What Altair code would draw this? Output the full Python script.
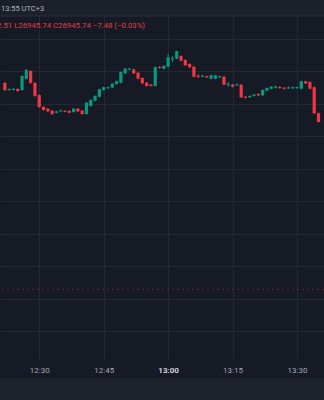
import altair as alt
import pandas as pd

times = ["12:22","12:23","12:24","12:25","12:26","12:27","12:28","12:29","12:30","12:31",
         "12:32","12:33","12:34","12:35","12:36","12:37","12:38","12:39","12:40","12:41",
         "12:42","12:43","12:44","12:45","12:46","12:47","12:48","12:49","12:50","12:51",
         "12:52","12:53","12:54","12:55","12:56","12:57","12:58","12:59","13:00","13:01",
         "13:02","13:03","13:04","13:05","13:06","13:07","13:08","13:09","13:10","13:11",
         "13:12","13:13","13:14","13:15","13:16","13:17","13:18","13:19","13:20","13:21",
         "13:22","13:23","13:24","13:25","13:26","13:27","13:28","13:29","13:30","13:31",
         "13:32","13:33","13:34","13:35"]
opens = [26966.1,26960.5,26960.8,26961.5,26960.7,26969.4,26975.3,26966.1,26956.8,26947.6,
         26946.3,26944.8,26943.2,26944.2,26944.8,26944.5,26943.8,26946.3,26944.8,26942.2,
         26948.4,26952.5,26955.5,26960.7,26962.0,26962.6,26965.3,26966.3,26973.5,26976.4,
         26976.6,26974.0,26969.9,26966.3,26964.8,26963.8,26978.4,26977.1,26978.6,26984.1,
         26984.8,26986.8,26983.8,26980.7,26978.6,26971.6,26971.0,26971.3,26969.4,26969.4,
         26970.5,26970.9,26964.6,26964.8,26964.3,26964.8,26955.5,26955.1,26956.1,26957.6,
         26956.6,26960.2,26961.7,26962.4,26963.0,26962.4,26961.9,26962.0,26962.1,26961.7,
         26967.4,26966.8,26962.8,26942.8]
closes = [26960.7,26961.3,26961.6,26959.9,26971.5,26976.1,26966.1,26956.1,26947.6,26945.3,
          26944.3,26942.2,26944.2,26945.0,26944.0,26943.2,26946.3,26944.3,26942.2,26950.9,
          26953.0,26956.1,26961.2,26962.8,26962.8,26965.5,26967.4,26974.5,26977.1,26977.2,
          26973.5,26969.4,26965.8,26963.8,26963.8,26978.2,26977.6,26979.2,26985.8,26984.9,
          26990.5,26983.2,26979.7,26978.2,26970.9,26970.8,26971.8,26970.4,26972.0,26972.0,
          26971.3,26964.8,26965.4,26963.2,26965.1,26955.1,26954.7,26956.1,26957.1,26956.6,
          26960.7,26962.2,26963.2,26963.4,26962.2,26961.6,26962.7,26962.8,26962.9,26967.4,
          26965.8,26961.7,26942.8,26936.1]
highs = [26966.9,26961.9,26962.2,26962.1,26971.9,26976.9,26975.9,26966.6,26957.3,26948.1,
         26946.9,26945.3,26944.7,26945.5,26945.3,26945.0,26946.8,26946.8,26945.3,26951.4,
         26953.5,26956.6,26961.7,26963.3,26963.3,26966.0,26967.9,26975.0,26977.6,26977.7,
         26977.1,26974.5,26970.4,26966.8,26965.3,26978.7,26978.9,26979.7,26988.4,26986.8,
         26991.0,26987.3,26984.3,26981.2,26979.1,26973.0,26972.3,26971.8,26972.5,26972.5,
         26971.8,26971.4,26966.8,26965.3,26965.6,26965.3,26956.0,26956.6,26957.6,26958.1,
         26961.2,26962.7,26963.7,26963.9,26963.5,26962.9,26963.2,26963.3,26963.4,26967.9,
         26967.9,26967.3,26963.3,26943.3]
lows = [26959.9,26960.1,26960.3,26959.3,26960.2,26968.8,26965.6,26955.5,26947.0,26944.8,
        26943.8,26941.7,26942.7,26943.8,26943.6,26942.8,26943.3,26943.8,26941.7,26941.8,
        26947.9,26952.0,26955.0,26960.2,26961.6,26962.1,26964.8,26965.8,26973.0,26975.9,
        26973.0,26968.9,26965.3,26963.3,26963.3,26963.3,26977.1,26976.6,26978.1,26982.2,
        26984.3,26982.7,26979.2,26977.7,26970.4,26969.9,26970.5,26969.9,26968.9,26968.9,
        26970.0,26964.3,26963.0,26962.7,26963.8,26954.6,26954.2,26954.6,26955.6,26956.1,
        26956.1,26959.7,26961.2,26961.9,26961.7,26961.1,26961.4,26961.5,26961.6,26961.2,
        26965.3,26961.2,26942.3,26935.6]

tick_labels = ["12:30", "12:45", "13:00", "13:15", "13:30"]
grid_prices = [26775, 26800, 26825, 26850, 26875, 26900, 26925, 26950, 26975, 27000, 27025]
ref_price = [26807.4]
header_time = "13:55 UTC+3"
header_ohlc = "2.51 L26945.74 C26945.74 \u22127.48 (\u22120.03%)"

UP = "#089981"
DOWN = "#f23645"
BG = "#161a25"
GRID = "#242834"


def dt(hm, sec=0):
    h, m = hm.split(":")
    return alt.DateTime(year=2023, month=9, date=1, hours=int(h), minutes=int(m), seconds=sec)


df = pd.DataFrame({
    "t": ["2023/09/01 %s:00" % t for t in times],
    "open": opens, "close": closes, "high": highs, "low": lows,
})
df["dir"] = ["up" if c >= o else "down" for o, c in zip(opens, closes)]

is_hour = "hours(datum.value) == 13 && minutes(datum.value) == 0"
x_scale = alt.Scale(domain=[dt("12:22", 2), dt("13:35", 7)])
x_axis = alt.Axis(
    title=None, format="%H:%M", values=[dt(t) for t in tick_labels],
    domain=False, ticks=False, labelFontSize=8, labelFont="Roboto",
    labelColor={"condition": {"test": is_hour, "value": "#d1d4dc"}, "value": "#a3a6af"},
    labelFontWeight={"condition": {"test": is_hour, "value": "bold"}, "value": "normal"},
    labelPadding=7, labelFlush=False, gridColor=GRID, gridWidth=1,
)
y_scale = alt.Scale(domain=[26753.77, 27029.92], nice=False, zero=False)
y_axis = alt.Axis(title=None, values=grid_prices, labels=False, ticks=False, domain=False,
                  gridColor=GRID, gridWidth=1, orient="right")
color = alt.Color("dir:N", scale=alt.Scale(domain=["up", "down"], range=[UP, DOWN]), legend=None)

base = alt.Chart(df)
wicks = base.mark_rule(strokeWidth=1).encode(
    x=alt.X("t:T", scale=x_scale, axis=x_axis),
    y=alt.Y("low:Q", scale=y_scale, axis=y_axis),
    y2="high:Q",
    color=color,
)
bodies = base.mark_bar(size=3.2).encode(
    x=alt.X("t:T", scale=x_scale, axis=x_axis),
    y=alt.Y("open:Q", scale=y_scale, axis=y_axis),
    y2="close:Q",
    color=color,
)
ref_line = alt.Chart(pd.DataFrame({"p": ref_price})).mark_rule(
    color=DOWN, opacity=0.35, strokeDash=[2, 3], strokeWidth=1
).encode(y=alt.Y("p:Q", scale=y_scale, axis=y_axis))

one = pd.DataFrame({"a": [0]})
header_bg = alt.Chart(one).mark_rect(color="#1c202b").encode(
    x=alt.value(0), x2=alt.value(324), y=alt.value(0), y2=alt.value(16))
header_border = alt.Chart(one).mark_rule(color="#2a2e39", strokeWidth=1).encode(
    x=alt.value(0), x2=alt.value(324), y=alt.value(16))
header_txt = alt.Chart(one).mark_text(
    text=header_time, align="left", baseline="middle", fontSize=7.5, font="Roboto", color="#b2b5be"
).encode(x=alt.value(1), y=alt.value(9))
ohlc_txt = alt.Chart(one).mark_text(
    text=header_ohlc, align="left", baseline="middle", fontSize=7.8, font="Roboto", color="#e03c4a"
).encode(x=alt.value(-3), y=alt.value(26))
bottom_band = alt.Chart(one).mark_rect(color="#1e222d").encode(
    x=alt.value(0), x2=alt.value(324), y=alt.value(378), y2=alt.value(400))

chart = alt.layer(
    ref_line, wicks, bodies, header_bg, header_border, header_txt, ohlc_txt, bottom_band
).properties(
    width=324, height=359,
    autosize=alt.AutoSizeParams(type="none"),
    padding={"left": 0, "top": 0, "right": 0, "bottom": 41},
    background=BG,
).configure_view(fill=BG, stroke=None)

chart.save("out.html", embed_options={"renderer": "svg", "actions": False})
